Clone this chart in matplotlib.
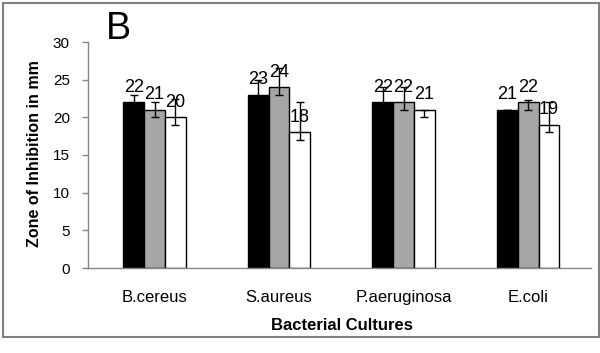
import numpy as np
import matplotlib
matplotlib.use('Agg')
import matplotlib.pyplot as plt
from matplotlib.patches import Rectangle

plt.rcParams['font.family'] = ['Liberation Sans', 'DejaVu Sans']

# Data
cultures = ['B.cereus', 'S.aureus', 'P.aeruginosa', 'E.coli']
black_vals = [22, 23, 22, 21]
gray_vals = [21, 24, 22, 22]
white_vals = [20, 18, 21, 19]
# error bars (lower, upper)
black_lo = [1, 1, 1, 0]
black_hi = [1, 2, 2, 0]
gray_lo = [1, 1, 1, 1]
gray_hi = [1, 2.5, 2, 0.3]
white_lo = [1, 1, 1, 1]
white_hi = [2.5, 4, 0, 3]

series = [
    (black_vals, black_lo, black_hi, '#000000'),
    (gray_vals, gray_lo, gray_hi, '#a6a6a6'),
    (white_vals, white_lo, white_hi, '#ffffff'),
]

fig = plt.figure(figsize=(6.0, 3.53), dpi=100)
ax = fig.add_axes([88 / 600, 1 - 268 / 353, (591 - 88) / 600, (268 - 42) / 353])

x = np.arange(len(cultures))
w = 1 / 6
for i, (vals, lo, hi, col) in enumerate(series):
    pos = x + (i - 1) * w
    ax.bar(pos, vals, width=w, color=col, edgecolor='black', linewidth=1, zorder=2)
    ax.errorbar(pos, vals, yerr=[lo, hi], fmt='none', ecolor='black',
                elinewidth=1, capsize=3, capthick=1, zorder=3)
    for p, v in zip(pos, vals):
        ax.annotate(str(v), (p, v), xytext=(0, 7.5), textcoords='offset points',
                    ha='center', va='baseline', fontsize=13, zorder=4)

ax.set_xlim(-0.535, 3.505)
ax.set_ylim(0, 30)
ax.set_yticks(range(0, 31, 5))
ax.set_xticks(x)
ax.set_xticklabels(cultures, fontsize=12)
ax.tick_params(axis='x', length=0, pad=16)
ax.tick_params(axis='y', length=4, width=1, color='#868686', direction='out', labelsize=11, pad=9)
for s in ['top', 'right']:
    ax.spines[s].set_visible(False)
for s in ['left', 'bottom']:
    ax.spines[s].set_color('#868686')
    ax.spines[s].set_linewidth(1)

fig.text(35 / 600, 1 - 154 / 353, 'Zone of Inhibition in mm', rotation=90,
         ha='center', va='center', fontsize=11.5, fontweight='bold')
fig.text(342 / 600, 1 - 326 / 353, 'Bacterial Cultures', ha='center', va='center',
         fontsize=12, fontweight='bold')
fig.text(106 / 600, 1 - 39 / 353, 'B', fontsize=27, va='baseline', ha='left')

# grey frame around the chart
fig.patches.append(Rectangle((3 / 600, 1 - 337 / 353), 596 / 600, 334 / 353,
                             transform=fig.transFigure, fill=False,
                             edgecolor='#808080', linewidth=1.5))

fig.savefig('out.png', dpi=100, facecolor='white')
